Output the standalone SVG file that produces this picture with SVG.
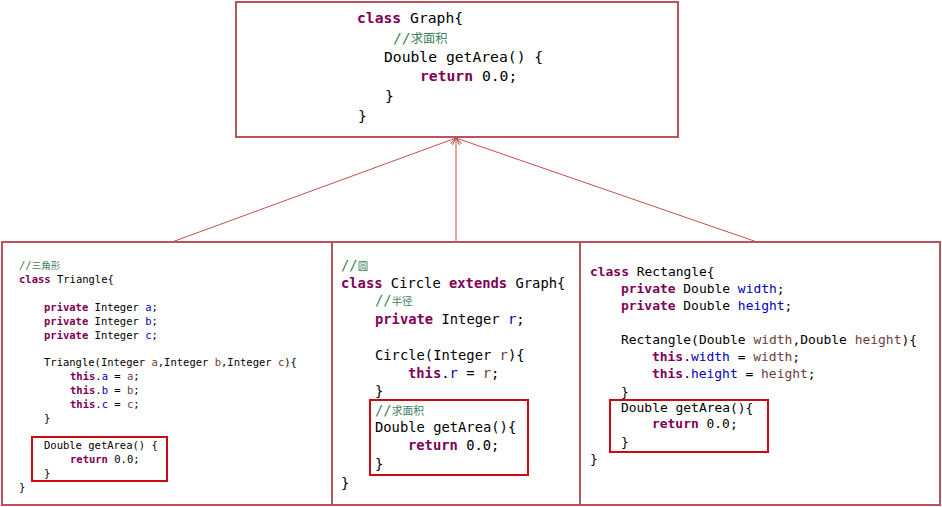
<svg xmlns="http://www.w3.org/2000/svg" width="942" height="507" viewBox="0 0 942 507">
<defs>
<style>
.box{fill:#fff;stroke:#b8545e;stroke-width:2}
.hl{fill:none;stroke:#cc0a14;stroke-width:2}
text{font-family:"DejaVu Sans Mono","Liberation Mono",monospace;fill:#000}
.g{font-size:14.7px}
.t{font-size:10.5px}
.c{font-size:13.8px}
.r{font-size:12.95px}
.k{fill:#7f0055;font-weight:bold}
.f{fill:#0000c0}
.p{fill:#6a3e3e}
.m{fill:#3f7f5f}
.cjk{font-family:"Noto Sans CJK SC",sans-serif}
.conn{stroke:#c0504d;stroke-width:1;fill:none}
</style>
<marker id="arr" markerWidth="10" markerHeight="10" refX="9" refY="5" orient="auto" markerUnits="userSpaceOnUse">
<path d="M2,1.5 L9,5 L2,8.5" fill="none" stroke="#c0504d" stroke-width="1"/>
</marker>
</defs>
<rect width="942" height="507" fill="#fff"/>
<g id="connectors">
<line class="conn" x1="172" y1="242" x2="456" y2="138" marker-end="url(#arr)"/>
<line class="conn" x1="456" y1="242" x2="456" y2="138" marker-end="url(#arr)"/>
<line class="conn" x1="757" y1="242" x2="456" y2="138" marker-end="url(#arr)"/>
</g>
<g id="graph">
<rect class="box" x="236" y="2" width="442" height="135"/>
<text class="g" x="357" y="23"><tspan class="k">class</tspan> Graph{</text>
<text class="g m" x="393" y="43">//<tspan class="cjk" font-size="12.3">求面积</tspan></text>
<text class="g" x="384" y="62">Double getArea() {</text>
<text class="g" x="420" y="81"><tspan class="k">return</tspan> 0.0;</text>
<text class="g" x="385" y="101">}</text>
<text class="g" x="358" y="121">}</text>
</g>
<g id="triangle">
<rect class="box" x="2" y="242" width="330" height="263"/>
<text class="t m" x="19" y="269">//<tspan class="cjk" font-size="9.5">三角形</tspan></text>
<text class="t" x="19" y="283"><tspan class="k">class</tspan> Triangle{</text>
<text class="t" x="44" y="311"><tspan class="k">private</tspan> Integer <tspan class="f">a</tspan>;</text>
<text class="t" x="44" y="325"><tspan class="k">private</tspan> Integer <tspan class="f">b</tspan>;</text>
<text class="t" x="44" y="339"><tspan class="k">private</tspan> Integer <tspan class="f">c</tspan>;</text>
<text class="t" x="44" y="366">Triangle(Integer <tspan class="p">a</tspan>,Integer <tspan class="p">b</tspan>,Integer <tspan class="p">c</tspan>){</text>
<text class="t" x="70" y="380"><tspan class="k">this</tspan>.<tspan class="f">a</tspan> = <tspan class="p">a</tspan>;</text>
<text class="t" x="70" y="394"><tspan class="k">this</tspan>.<tspan class="f">b</tspan> = <tspan class="p">b</tspan>;</text>
<text class="t" x="70" y="408"><tspan class="k">this</tspan>.<tspan class="f">c</tspan> = <tspan class="p">c</tspan>;</text>
<text class="t" x="44" y="422">}</text>
<rect class="hl" x="32" y="437" width="135" height="44"/>
<text class="t" x="44" y="449">Double getArea() {</text>
<text class="t" x="70" y="463"><tspan class="k">return</tspan> 0.0;</text>
<text class="t" x="44" y="477">}</text>
<text class="t" x="19" y="491">}</text>
</g>
<g id="circle">
<rect class="box" x="332" y="242" width="248" height="263"/>
<text class="c m" x="341" y="270">//<tspan class="cjk" font-size="10.5">圆</tspan></text>
<text class="c" x="341" y="288"><tspan class="k">class</tspan> Circle <tspan class="k">extends</tspan> Graph{</text>
<text class="c m" x="375" y="305">//<tspan class="cjk" font-size="10.5">半径</tspan></text>
<text class="c" x="375" y="324"><tspan class="k">private</tspan> Integer <tspan class="f">r</tspan>;</text>
<text class="c" x="375" y="360">Circle(Integer <tspan class="p">r</tspan>){</text>
<text class="c" x="408" y="378"><tspan class="k">this</tspan>.<tspan class="f">r</tspan> = <tspan class="p">r</tspan>;</text>
<text class="c" x="375" y="396">}</text>
<rect class="hl" x="370" y="400" width="158" height="75"/>
<text class="c m" x="375" y="415">//<tspan class="cjk" font-size="10.8">求面积</tspan></text>
<text class="c" x="375" y="432">Double getArea(){</text>
<text class="c" x="408" y="450"><tspan class="k">return</tspan> 0.0;</text>
<text class="c" x="375" y="469">}</text>
<text class="c" x="341" y="488">}</text>
</g>
<g id="rectangle">
<rect class="box" x="580" y="242" width="360" height="263"/>
<text class="r" x="590" y="276"><tspan class="k">class</tspan> Rectangle{</text>
<text class="r" x="621" y="293"><tspan class="k">private</tspan> Double <tspan class="f">width</tspan>;</text>
<text class="r" x="621" y="310"><tspan class="k">private</tspan> Double <tspan class="f">height</tspan>;</text>
<text class="r" x="621" y="344">Rectangle(Double <tspan class="p">width</tspan>,Double <tspan class="p">height</tspan>){</text>
<text class="r" x="652" y="361"><tspan class="k">this</tspan>.<tspan class="f">width</tspan> = <tspan class="p">width</tspan>;</text>
<text class="r" x="652" y="378"><tspan class="k">this</tspan>.<tspan class="f">height</tspan> = <tspan class="p">height</tspan>;</text>
<text class="r" x="621" y="396">}</text>
<rect class="hl" x="610" y="400" width="158" height="52"/>
<text class="r" x="621" y="412">Double getArea(){</text>
<text class="r" x="652" y="428"><tspan class="k">return</tspan> 0.0;</text>
<text class="r" x="621" y="446">}</text>
<text class="r" x="590" y="463">}</text>
</g>
</svg>
